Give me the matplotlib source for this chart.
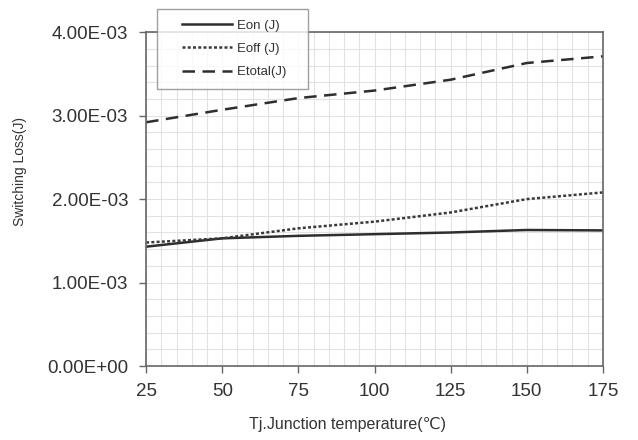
import matplotlib
matplotlib.use('Agg')
import matplotlib.pyplot as plt
from matplotlib.ticker import MultipleLocator
from matplotlib.legend_handler import HandlerLine2D
from matplotlib.lines import Line2D
import numpy as np

# values (J)
temps = [25, 50, 75, 100, 125, 150, 175]
eon = [1.43e-3, 1.53e-3, 1.56e-3, 1.58e-3, 1.60e-3, 1.63e-3, 1.625e-3]
eoff = [1.48e-3, 1.53e-3, 1.65e-3, 1.73e-3, 1.84e-3, 2.00e-3, 2.08e-3]
etotal = [2.92e-3, 3.07e-3, 3.21e-3, 3.30e-3, 3.43e-3, 3.63e-3, 3.71e-3]

y_ticks = [0, 1e-3, 2e-3, 3e-3, 4e-3]

plt.rcParams['font.family'] = ['Liberation Sans', 'DejaVu Sans']

fig = plt.figure(figsize=(6.38, 4.4), dpi=100)
ax = fig.add_axes([0.229, 0.168, 0.716, 0.759])

line_col = '#2e2e2e'
ax.plot(temps, eon, color=line_col, lw=1.8, ls='-', label='Eon (J)   ')
ax.plot(temps, eoff, color='#3a3a3a', lw=1.8, ls=(0, (1.2, 0.9)), label='Eoff (J)   ')
ax.plot(temps, etotal, color=line_col, lw=1.8, ls=(0, (5, 3)), label='Etotal(J)   ')

ax.set_xlim(25, 175)
ax.set_ylim(0, 4e-3)
ax.set_xticks(temps)
ax.set_yticks(y_ticks)
ax.yaxis.set_major_formatter(plt.FuncFormatter(lambda v, p: f'{v:.2E}'))
ax.xaxis.set_minor_locator(MultipleLocator(5))
ax.yaxis.set_minor_locator(MultipleLocator(2e-4))

ax.grid(which='both', color='#e2e2e2', lw=0.8)
ax.set_axisbelow(True)
ax.tick_params(which='minor', length=0)
ax.tick_params(which='major', direction='out', length=5, width=1, color='#666666',
               labelsize=13.5, labelcolor='#333333')
ax.tick_params(axis='y', pad=8)
ax.tick_params(axis='x', pad=7)
for s in ax.spines.values():
    s.set_color('#666666')
    s.set_linewidth(1.2)

ax.set_xlabel('Tj.Junction temperature(℃)', fontsize=11.5, color='#333333')
ax.xaxis.set_label_coords(0.44, -0.152)
ax.set_ylabel('Switching Loss(J)', fontsize=10, color='#333333')
ax.yaxis.set_label_coords(-0.26, 0.584)

# handle pushed right inside its box, like the reference legend
leg = ax.legend(loc='upper left', bbox_to_anchor=(0.246, 0.98), bbox_transform=fig.transFigure,
                fontsize=9.5, frameon=True, fancybox=False, edgecolor='#888888',
                handlelength=4.9, handletextpad=0.4, labelspacing=0.85,
                borderpad=0.8, borderaxespad=0,
                handler_map={Line2D: HandlerLine2D(xpad=1.1)})
leg.get_frame().set_linewidth(1.0)
for t in leg.get_texts():
    t.set_color('#333333')

fig.savefig('out.png', dpi=100)
